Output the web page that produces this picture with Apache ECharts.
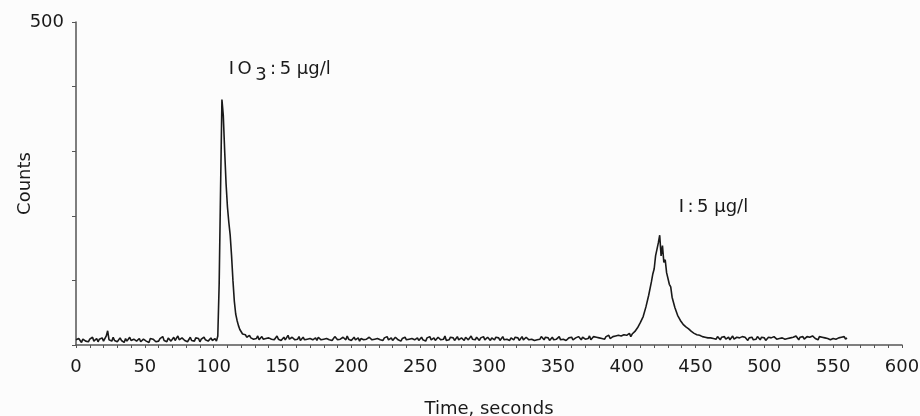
<!DOCTYPE html>
<html>
<head>
<meta charset="utf-8">
<script src="https://cdn.jsdelivr.net/npm/echarts@6/dist/echarts.min.js"></script>
<style>
html,body{margin:0;padding:0;background:#fcfcfc;}
#c{width:920px;height:416px;}
</style>
</head>
<body>
<div id="c"></div>
<script>
// sample times: one reading per second, 0 .. 560 s
const timeStart = 0;
const timeStep = 1;

// counts (one value per second)
const countsBefore = [ // 0..102 s
  8, 5, 10, 7, 4, 9, 11, 6, 8, 5,
  9, 7, 12, 6, 8, 10, 5, 9, 7, 11,
  6, 9, 14, 22, 8, 10, 6, 12, 7, 9,
  5, 8, 11, 7, 9, 4, 10, 6, 8, 12,
  7, 5, 9, 11, 6, 8, 10, 5, 7, 9,
  12, 6, 8, 4, 10, 7, 9, 11, 5, 8,
  6, 10, 8, 13, 7, 9, 5, 11, 8, 6,
  9, 12, 7, 10, 14, 8, 6, 11, 9, 7,
  10, 5, 8, 12, 7, 9, 6, 11, 8, 10,
  5, 9, 7, 12, 8, 10, 6, 9, 11, 7,
  8, 10, 6
];
const countsPeakIO3 = [ // 103..125 s
  14, 95, 240, 380, 355, 300, 250, 214, 190, 170,
  138, 100, 68, 48, 38, 30, 24, 21, 17, 14,
  16, 12, 13
];
const countsBetween = [ // 126..399 s
  15, 11, 13, 9,
  12, 10, 14, 8, 11, 13, 9, 12, 10, 7,
  11, 13, 9, 12, 8, 10, 14, 9, 11, 7,
  10, 12, 8, 11, 15, 9, 7, 12, 10, 8,
  11, 9, 13, 7, 10, 12, 8, 11, 9, 6,
  10, 13, 8, 9, 11, 7, 12, 10, 8, 11,
  9, 6, 10, 12, 8, 11, 7, 9, 13, 10,
  8, 11, 9, 7, 12, 10, 8, 14, 9, 11,
  7, 10, 12, 8, 9, 11, 6, 10, 13, 8,
  11, 9, 7, 12, 10, 8, 11, 9, 6, 10,
  12, 8, 10, 7, 11, 9, 13, 8, 10, 11,
  7, 9, 12, 10, 8, 11, 6, 10, 9, 12,
  8, 11, 9, 7, 10, 13, 8, 10, 11, 7,
  9, 12, 8, 10, 6, 11, 9, 13, 8, 10,
  11, 7, 9, 12, 10, 8, 11, 9, 14, 7,
  10, 8, 12, 9, 11, 7, 10, 13, 8, 9,
  11, 10, 7, 12, 9, 8, 11, 14, 9, 10,
  8, 12, 10, 7, 11, 9, 13, 8, 10, 12,
  9, 7, 11, 10, 8, 12, 9, 11, 7, 10,
  13, 8, 10, 9, 12, 7, 11, 10, 8, 12,
  9, 11, 7, 10, 13, 8, 9, 12, 10, 8,
  11, 9, 12, 7, 10, 8, 11, 9, 13, 10,
  8, 12, 9, 11, 7, 10, 12, 8, 11, 9,
  10, 13, 8, 11, 9, 12, 7, 10, 11, 9,
  12, 8, 10, 11, 9, 13, 10, 8, 12, 11,
  9, 12, 10, 14, 8, 11, 13, 10, 12, 9,
  11, 14, 10, 12, 9, 13, 11, 15, 10, 12,
  13, 11, 14, 12, 15, 12, 14, 13, 16, 14
];
const countsPeakI = [ // 400..460 s
  15, 12, 18, 13, 17, 16, 21, 19, 27, 25,
  35, 34, 44, 47, 59, 62, 77, 80, 98, 110,
  118, 138, 140, 158, 170, 138, 154, 128, 132, 112,
  114, 94, 90, 74, 72, 58, 57, 46, 47, 38,
  40, 32, 34, 28, 30, 25, 27, 21, 23, 18,
  21, 16, 19, 15, 17, 13, 16, 12, 15, 11,
  14
];
const countsAfter = [ // 461..560 s
  11, 14, 10, 12, 9, 13, 11, 8, 12,
  10, 13, 9, 11, 12, 8, 10, 14, 9, 11,
  12, 9, 11, 8, 13, 10, 12, 9, 7, 11,
  10, 12, 8, 11, 9, 13, 10, 8, 12, 9,
  11, 7, 10, 12, 9, 11, 8, 13, 10, 9,
  12, 10, 8, 11, 14, 9, 12, 10, 13, 11,
  9, 12, 10, 14, 11, 8, 12, 10, 13, 9,
  11, 13, 10, 12, 9, 14, 11, 10, 12, 8,
  13, 10, 12, 9, 11, 14, 10, 12, 8, 11,
  10, 13, 9, 12, 11, 8, 12, 10, 13, 9,
  11
];

// axis ticks
const xMin = 0, xMax = 600, xInterval = 50;
const yMin = 0, yMax = 500, yInterval = 100;
const yLabelValues = [500];

// annotation texts and their anchor (data space)
const annoTexts = ['{a|I}{g|O}{s|3}{g|:}{g|5}{a| µg/l}', '{a|I}{g|:}{g|5}{a| µg/l}'];
const annoTimes = [148, 463];
const annoCounts = [422, 211];

const counts = [].concat(countsBefore, countsPeakIO3, countsBetween, countsPeakI, countsAfter);
const seriesData = counts.map((v, i) => [timeStart + i * timeStep, v]);

const FONT = 'DejaVu Sans';
const INK = '#1a1a1a';
const chart = echarts.init(document.getElementById('c'), null, {renderer: 'canvas'});
chart.setOption({
  backgroundColor: '#fcfcfc',
  animation: false,
  grid: {left: 76, right: 18, top: 22, bottom: 71, containLabel: false, outerBoundsMode: 'none'},
  xAxis: {
    type: 'value', min: xMin, max: xMax, interval: xInterval,
    name: 'Time, seconds', nameLocation: 'middle', nameGap: 55,
    nameTextStyle: {fontFamily: FONT, fontSize: 18, color: INK},
    axisLine: {lineStyle: {color: '#555', width: 1.5}},
    axisTick: {show: true, length: 3, lineStyle: {color: '#555'}},
    minorTick: {show: true, splitNumber: 5, length: 3, lineStyle: {color: '#555'}},
    axisLabel: {fontFamily: FONT, fontSize: 18, color: INK, margin: 13, showMaxLabel: true},
    splitLine: {show: false}
  },
  yAxis: {
    type: 'value', min: yMin, max: yMax, interval: yInterval,
    name: 'Counts', nameLocation: 'middle', nameGap: 42, nameMoveOverlap: false,
    nameTextStyle: {fontFamily: FONT, fontSize: 18, color: INK},
    axisLine: {show: true, lineStyle: {color: '#555', width: 1.5}},
    axisTick: {show: true, length: 4, lineStyle: {color: '#555'}},
    axisLabel: {fontFamily: FONT, fontSize: 18, color: INK, margin: 12,
      formatter: v => (yLabelValues.indexOf(v) >= 0 ? String(v) : '')},
    splitLine: {show: false}
  },
  series: [{
    type: 'line',
    data: seriesData,
    showSymbol: false,
    sampling: null,
    lineStyle: {color: INK, width: 1.6},
    markPoint: {
      symbol: 'circle', symbolSize: 0, silent: true,
      label: {
        show: true, position: 'inside', color: INK,
        rich: {
          a: {fontFamily: FONT, fontSize: 18, color: INK, lineHeight: 20, verticalAlign: 'top'},
          g: {fontFamily: FONT, fontSize: 18, color: INK, lineHeight: 20, verticalAlign: 'top', padding: [0, 0, 0, 3.5]},
          s: {fontFamily: FONT, fontSize: 18, color: INK, lineHeight: 24, verticalAlign: 'bottom', padding: [0, 0, 0, 3.5]}
        }
      },
      data: annoTexts.map((t, i) => ({coord: [annoTimes[i], annoCounts[i]], label: {formatter: t}}))
    }
  }]
});
</script>
</body>
</html>
